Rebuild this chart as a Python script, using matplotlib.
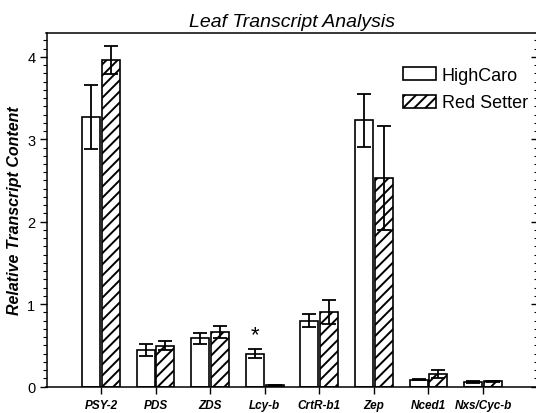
import matplotlib
matplotlib.use("Agg")
import matplotlib.pyplot as plt
import numpy as np
from matplotlib.ticker import MultipleLocator

genes = ["PSY-2", "PDS", "ZDS", "Lcy-b", "CrtR-b1", "Zep", "Nced1", "Nxs/Cyc-b"]
highcaro = [3.27, 0.44, 0.585, 0.40, 0.80, 3.23, 0.08, 0.055]
highcaro_err = [0.39, 0.075, 0.07, 0.05, 0.075, 0.32, 0.005, 0.008]
redsetter = [3.96, 0.495, 0.66, 0.015, 0.905, 2.53, 0.15, 0.062]
redsetter_err = [0.17, 0.055, 0.07, 0.003, 0.15, 0.63, 0.05, 0.008]
series_names = ["HighCaro", "Red Setter"]
title = "Leaf Transcript Analysis"
ylabel = "Relative Transcript Content"

plt.rcParams['font.family'] = ['Liberation Sans', 'DejaVu Sans']
plt.rcParams['hatch.linewidth'] = 1.4

fig = plt.figure(figsize=(5.36, 4.14), dpi=100)
ax = fig.add_axes([46.5/536, 26.5/414, 491/536, 353.5/414])

x = np.arange(len(genes))
w = 0.33
off = 0.18
ekw = dict(elinewidth=1.3, capthick=1.3, ecolor='black')
ax.bar(x - off, highcaro, w, yerr=highcaro_err, capsize=5, facecolor='white',
       edgecolor='black', linewidth=1.2, error_kw=ekw, label=series_names[0], zorder=2)
ax.bar(x + off, redsetter, w, yerr=redsetter_err, capsize=5, facecolor='white',
       edgecolor='black', linewidth=1.2, hatch='///', error_kw=ekw, label=series_names[1], zorder=2)

ax.text(x[3] - off, 0.63, "*", ha='center', va='center', fontsize=16)

ax.set_xlim(-1.0, 8.0)
ax.set_ylim(0, 4.29)
ax.set_xticks(x)
ax.set_xticklabels(genes, fontsize=8.5, fontweight='bold', fontstyle='italic')
ax.set_yticks([0, 1, 2, 3, 4])
ax.yaxis.set_minor_locator(MultipleLocator(0.1))
ax.tick_params(axis='y', which='major', direction='out', length=5, width=1, labelsize=10.5, pad=3)
ax.tick_params(axis='y', which='minor', direction='out', length=3, width=0.8)
ax.tick_params(axis='y', which='both', right=True, labelright=False)
ax.tick_params(axis='x', which='major', direction='out', length=5, width=1, pad=4)
# right-side ticks point inward
for tl in ax.yaxis.get_minorticklines()[1::2]:
    tl.set_marker(0)
for tl in ax.yaxis.get_majorticklines()[1::2]:
    tl.set_marker(0)
for s in ax.spines.values():
    s.set_linewidth(1.1)

ax.set_ylabel(ylabel, fontsize=11.5, fontweight='bold', fontstyle='italic', labelpad=4)
ax.set_title(title, fontsize=14, fontstyle='italic', pad=5)

leg = ax.legend(loc='upper right', bbox_to_anchor=(0.98, 0.905), frameon=False, fontsize=13,
                handlelength=1.85, handleheight=0.75, handletextpad=0.3, labelspacing=0.6,
                borderaxespad=0, borderpad=0)

fig.savefig("out.png", dpi=100)
